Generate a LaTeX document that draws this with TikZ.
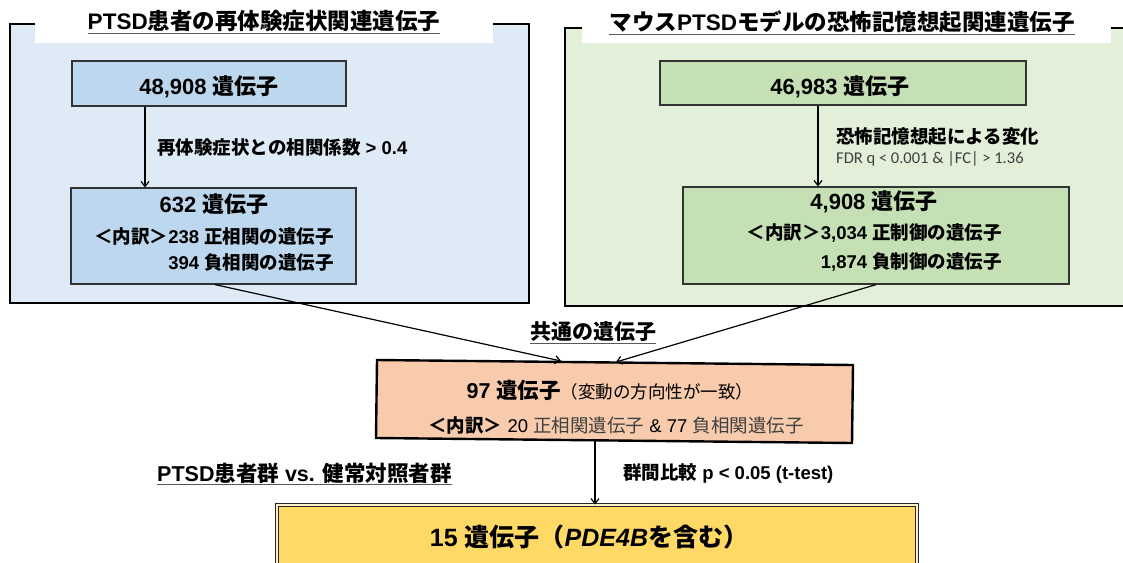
\documentclass[tikz,border=0pt]{standalone}
\usepackage{fontspec}
\setmainfont{Noto Sans CJK JP}
\newfontfamily\ltn{Liberation Sans}
\newfontfamily\clb{Carlito}
\usetikzlibrary{arrows.meta}
\definecolor{lblue}{HTML}{DEEBF7}
\definecolor{mblue}{HTML}{BDD7EE}
\definecolor{lgreen}{HTML}{E2F0D9}
\definecolor{mgreen}{HTML}{C5E0B4}
\definecolor{orng}{HTML}{F8CBAD}
\definecolor{ylw}{HTML}{FFD966}
\definecolor{ulc}{HTML}{595959}
\definecolor{gtxt}{HTML}{404040}
\begin{document}
\begin{tikzpicture}[x=1pt,y=-1pt,
  arr/.style={line width=1.2pt,-{Straight Barb[length=5pt,width=8pt]}},
  outerbox/.style={draw=black,line width=2.2pt},
  inbox/.style={draw=black!80,line width=1.2pt,rectangle,inner sep=0pt},
  ttl/.style={font=\bfseries\fontsize{22.5}{26}\selectfont,inner sep=0pt},
  big/.style={font=\bfseries\fontsize{22}{26}\selectfont},
  mid/.style={font=\bfseries\fontsize{18.5}{22}\selectfont,inner sep=0pt},
  uline/.style={draw=ulc,line width=1pt}
]
\useasboundingbox (0,0) rectangle (1123,562);
\fill[white] (0,0) rectangle (1123,562);

% outer panels
\filldraw[outerbox,fill=lblue] (10,24) rectangle (529,303);
\fill[white] (35,0) rectangle (493,43);
\filldraw[outerbox,fill=lgreen] (565,28) rectangle (1135,306);
\fill[white] (582,0) rectangle (1111,43);

% titles
\node[ttl] (tL) at (264,21) {{\ltn PTSD}患者の再体験症状関連遺伝子};
\draw[uline] ([yshift=-1.5pt]tL.south west) -- ([yshift=-1.5pt]tL.south east);
\node[ttl] (tR) at (842,22) {マウス{\ltn PTSD}モデルの恐怖記憶想起関連遺伝子};
\draw[uline] ([yshift=-1.5pt]tR.south west) -- ([yshift=-1.5pt]tR.south east);

% left inner boxes
\node[inbox,fill=mblue,minimum width=274pt,minimum height=45pt] (l1) at (209,83.5) {};
\node[big] (l1t) at (209,87) {{\ltn 48,908 }遺伝子};
\node[inbox,fill=mblue,minimum width=285pt,minimum height=96pt] (l2) at (213.5,236) {};
\node[big] (l2a) at (214,204) {{\ltn 632 }遺伝子};
\node[mid,anchor=east] (l2b) at (334,237) {＜内訳＞{\ltn 238 }正相関の遺伝子};
\node[mid,anchor=east] (l2c) at (334,263) {{\ltn 394 }負相関の遺伝子};
\coordinate (lx) at (145,0);
\draw[arr] (l1.south -| lx) -- (l2.north -| lx);
\node[mid,anchor=west] (llab) at (157,147) {再体験症状との相関係数{\ltn\ > 0.4}};

% right inner boxes
\node[inbox,fill=mgreen,minimum width=366pt,minimum height=44pt] (r1) at (843,83) {};
\node[big] (r1t) at (840,87) {{\ltn 46,983 }遺伝子};
\node[inbox,fill=mgreen,minimum width=386pt,minimum height=97pt] (r2) at (876,235.5) {};
\node[big] (r2a) at (874,202) {{\ltn 4,908 }遺伝子};
\node[mid,anchor=east] (r2b) at (1002,233) {＜内訳＞{\ltn 3,034 }正制御の遺伝子};
\node[mid,anchor=east] (r2c) at (1002,262) {{\ltn 1,874 }負制御の遺伝子};
\coordinate (rx) at (818,0);
\draw[arr] (r1.south -| rx) -- (r2.north -| rx);
\node[mid,anchor=west] (rlab) at (836,137) {恐怖記憶想起による変化};
\node[font=\clb\fontsize{16.5}{19}\selectfont,anchor=west,inner sep=0pt,text=gtxt] (rlab2) at (836,159) {FDR q < 0.001 \& |FC| > 1.36};

% common genes
\node[font=\bfseries\fontsize{21}{25}\selectfont,inner sep=0pt] (cm) at (593,332) {共通の遺伝子};
\draw[uline] ([yshift=-1.5pt]cm.south west) -- ([yshift=-1.5pt]cm.south east);

% orange box (slightly tilted)
\coordinate (o1) at (377,360);
\coordinate (o2) at (853,365);
\coordinate (o3) at (852,443);
\coordinate (o4) at (376,438);
\filldraw[fill=orng,draw=black,line width=2.4pt] (o1) -- (o2) -- (o3) -- (o4) -- cycle;
\node[minimum width=476pt,minimum height=80pt,inner sep=0pt] (ob) at (615,401) {};
\node[font=\bfseries\fontsize{21.5}{25}\selectfont] (oa) at (610,390) {{\ltn 97 }遺伝子{\mdseries\fontsize{17.5}{20}\selectfont（変動の方向性が一致）}};
\node[font=\fontsize{18.5}{22}\selectfont,text=gtxt] (obt) at (616,425) {{\color{black}\bfseries ＜内訳＞}{\color{black}\ltn\ 20 }正相関遺伝子{\color{black}\ltn\ \& 77 }負相関遺伝子};

\coordinate (xa) at (215,0);
\coordinate (xb) at (876,0);
\coordinate (oL) at (561,361);
\coordinate (oR) at (616,362);
\draw[arr] (l2.south -| xa) -- (oL);
\draw[arr] (r2.south -| xb) -- (oR);

% yellow box
\node[draw=black!85,line width=0.9pt,double=ylw!35,double distance=1.6pt,fill=ylw,minimum width=640pt,minimum height=62pt,inner sep=0pt] (yb) at (597,536) {};
\node[font=\bfseries\fontsize{25}{30}\selectfont] (ybt) at (589,537) {{\ltn 15 }遺伝子（{\ltn\itshape PDE4B}を含む）};
\coordinate (ox) at (595,441);
\draw[arr] (ox) -- (yb.north -| ox);

\node[font=\bfseries\fontsize{21.5}{25}\selectfont,inner sep=0pt,anchor=west] (grp) at (157,473) {{\ltn PTSD}患者群{\ltn\ vs. }健常対照者群};
\draw[uline] ([yshift=-1.5pt]grp.south west) -- ([yshift=-1.5pt]grp.south east);
\node[mid,anchor=west] (cmp) at (623,473) {群間比較{\ltn\ p < 0.05 (t-test)}};
\end{tikzpicture}
\end{document}
